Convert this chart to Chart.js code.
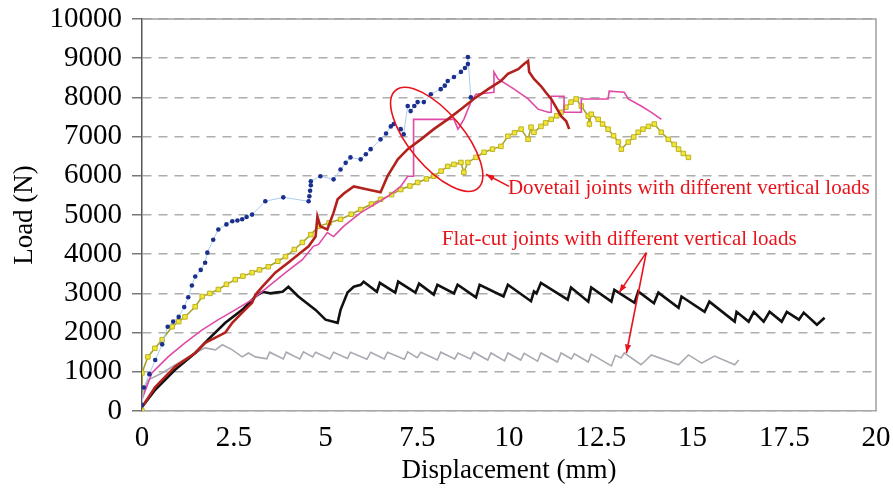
<!DOCTYPE html>
<html>
<head>
<meta charset="utf-8">
<script src="https://cdn.jsdelivr.net/npm/chart.js@4"></script>
<style>
  html, body { margin: 0; padding: 0; background: #fff; }
  #wrap { width: 893px; height: 488px; }
</style>
</head>
<body>
<div id="wrap"><canvas id="loadChart"></canvas></div>
<script>
// Load-displacement curves ------------------------------------------------------
const xTicks = [0, 2.5, 5, 7.5, 10, 12.5, 15, 17.5, 20];
const yTicks = [0, 1000, 2000, 3000, 4000, 5000, 6000, 7000, 8000, 9000, 10000];

// dovetail, dotted blue
const blueX = [0, 0.05, 0.2, 0.36, 0.55, 0.7, 0.85, 1.0, 1.15, 1.26, 1.36, 1.45, 1.6, 1.72, 1.78, 1.94, 2.08, 2.3, 2.46, 2.6, 2.73, 2.85, 3.0, 3.36, 3.85, 4.54, 4.56, 4.58, 4.6, 4.6, 4.86, 5.22, 5.41, 5.55, 5.68, 5.96, 6.1, 6.23, 6.5, 6.65, 6.78, 6.86, 7.05, 7.13, 7.24, 7.32, 7.42, 7.51, 7.68, 7.87, 8.14, 8.25, 8.33, 8.5, 8.69, 8.8, 8.88, 8.88, 8.96];
const blueY = [150, 600, 940, 1300, 1700, 2150, 2280, 2400, 2650, 2900, 3200, 3430, 3600, 3780, 4040, 4370, 4630, 4760, 4840, 4860, 4890, 4950, 5010, 5350, 5450, 5350, 5480, 5620, 5760, 5860, 5990, 5910, 6160, 6330, 6470, 6420, 6550, 6680, 6930, 7080, 7260, 7320, 7190, 7060, 7780, 7650, 7780, 7880, 7880, 8080, 8210, 8300, 8420, 8520, 8650, 8750, 8850, 9030, 8000];

// dovetail, dark red
const redX = [0, 0.36, 0.9, 1.45, 1.72, 2.0, 2.27, 2.46, 2.73, 3.0, 3.09, 3.28, 3.63, 3.99, 4.26, 4.54, 4.73, 4.78, 4.86, 5.05, 5.22, 5.33, 5.5, 5.77, 6.15, 6.5, 6.69, 6.97, 7.24, 7.6, 7.95, 8.33, 8.69, 9.04, 9.43, 9.78, 9.97, 10.25, 10.41, 10.52, 10.55, 10.68, 10.87, 11.0, 11.15, 11.28, 11.42, 11.56, 11.64];
const redY = [100, 610, 1130, 1480, 1740, 1870, 2000, 2250, 2510, 2760, 2970, 3170, 3530, 3790, 3990, 4200, 4450, 4960, 4710, 4630, 5060, 5400, 5550, 5730, 5650, 5580, 5990, 6420, 6680, 6930, 7190, 7440, 7700, 7960, 8210, 8420, 8600, 8720, 8850, 8930, 8650, 8470, 8290, 8130, 7960, 7750, 7520, 7390, 7190];

// dovetail, magenta
const pinkX = [0, 0.27, 0.71, 1.17, 1.64, 2.08, 2.54, 3.0, 3.44, 3.91, 4.37, 4.67, 4.81, 5.05, 5.22, 5.49, 5.96, 6.42, 6.69, 7.05, 7.24, 7.4, 7.4, 7.95, 8.5, 8.61, 8.77, 8.96, 9.1, 9.59, 9.59, 9.7, 10.14, 10.52, 10.79, 11.07, 11.15, 11.15, 11.5, 11.5, 11.97, 11.97, 12.7, 12.73, 13.14, 13.25, 13.6, 13.88, 14.15];
const pinkY = [300, 970, 1380, 1740, 2070, 2330, 2580, 2840, 3170, 3530, 3860, 4200, 4250, 4550, 4450, 4710, 5060, 5320, 5470, 5730, 5990, 5990, 7440, 7440, 7440, 7190, 7440, 7880, 8080, 8130, 8650, 8470, 8210, 7960, 7700, 7620, 7620, 8030, 8030, 7620, 7620, 7960, 7960, 8160, 8130, 7960, 7780, 7620, 7440];

// dovetail, yellow squares
const yellowX = [0, 0, 0.16, 0.35, 0.55, 0.82, 1.0, 1.17, 1.45, 1.64, 1.85, 2.08, 2.3, 2.54, 2.75, 3.0, 3.2, 3.44, 3.7, 3.91, 4.15, 4.37, 4.6, 4.81, 5.1, 5.41, 5.7, 5.96, 6.25, 6.5, 6.8, 7.05, 7.3, 7.51, 7.75, 7.95, 8.15, 8.33, 8.5, 8.69, 8.77, 8.88, 9.1, 9.32, 9.55, 9.78, 9.97, 10.15, 10.33, 10.52, 10.6, 10.68, 10.87, 11.0, 11.15, 11.3, 11.42, 11.55, 11.69, 11.83, 11.97, 12.16, 12.19, 12.24, 12.43, 12.55, 12.7, 12.85, 12.98, 13.06, 13.25, 13.4, 13.52, 13.65, 13.8, 13.96, 14.15, 14.34, 14.5, 14.62, 14.75, 14.89];
const yellowY = [0, 970, 1380, 1600, 1820, 2150, 2280, 2400, 2660, 2920, 3000, 3100, 3230, 3350, 3440, 3530, 3600, 3680, 3820, 3940, 4120, 4300, 4500, 4710, 4800, 4890, 5020, 5140, 5280, 5400, 5520, 5650, 5740, 5830, 5920, 5990, 6120, 6240, 6290, 6340, 6090, 6340, 6470, 6600, 6680, 6750, 7010, 7100, 7190, 6930, 7240, 7110, 7260, 7350, 7440, 7530, 7620, 7750, 7880, 7960, 7780, 7520, 7320, 7570, 7440, 7320, 7190, 7020, 6860, 6680, 6860, 6990, 7110, 7190, 7260, 7320, 7110, 6930, 6800, 6680, 6570, 6470];

// flat-cut, black
const blackX = [0, 0.36, 0.9, 1.45, 1.8, 2.27, 2.73, 3.09, 3.28, 3.5, 3.63, 3.83, 3.99, 4.26, 4.73, 5.0, 5.33, 5.41, 5.6, 5.77, 5.96, 6.04, 6.4, 6.48, 6.9, 6.98, 7.45, 7.55, 7.95, 8.05, 8.5, 8.6, 9.1, 9.2, 9.85, 9.97, 10.6, 10.68, 10.75, 10.87, 11.6, 11.69, 12.16, 12.24, 12.79, 12.87, 13.42, 13.52, 13.95, 14.07, 14.62, 14.7, 15.33, 15.46, 16.15, 16.2, 16.53, 16.67, 16.94, 17.1, 17.43, 17.57, 17.9, 18.03, 18.39, 18.6];
const blackY = [100, 540, 1050, 1480, 1820, 2250, 2580, 2920, 3040, 3000, 3020, 3040, 3170, 2920, 2580, 2330, 2250, 2580, 3020, 3170, 3220, 3300, 3040, 3270, 3020, 3300, 3020, 3250, 2970, 3220, 3000, 3220, 2900, 3220, 2920, 3220, 2800, 3050, 3000, 3270, 2840, 3150, 2790, 3150, 2790, 3090, 2760, 3050, 2750, 3020, 2630, 2920, 2530, 2790, 2280, 2530, 2280, 2530, 2280, 2530, 2280, 2530, 2330, 2510, 2200, 2380];

// flat-cut, grey
const greyX = [0, 0.16, 0.55, 1.0, 1.45, 1.72, 2.0, 2.19, 2.46, 2.73, 2.9, 3.09, 3.4, 3.48, 3.85, 3.93, 4.3, 4.4, 4.65, 4.73, 5.12, 5.22, 5.6, 5.68, 6.13, 6.23, 6.6, 6.69, 7.15, 7.24, 7.5, 7.6, 8.05, 8.14, 8.52, 8.61, 8.95, 9.04, 9.42, 9.51, 9.88, 9.97, 10.32, 10.41, 10.78, 10.87, 11.32, 11.42, 11.7, 11.78, 12.16, 12.24, 12.79, 12.9, 13.05, 13.14, 13.6, 13.88, 14.62, 14.89, 15.25, 15.6, 16.15, 16.26];
const greyY = [360, 790, 970, 1230, 1480, 1610, 1560, 1690, 1560, 1380, 1480, 1380, 1330, 1500, 1330, 1500, 1330, 1510, 1380, 1500, 1330, 1500, 1340, 1500, 1320, 1500, 1330, 1500, 1320, 1510, 1360, 1500, 1300, 1500, 1330, 1480, 1330, 1500, 1300, 1480, 1280, 1480, 1300, 1470, 1270, 1480, 1250, 1480, 1330, 1460, 1250, 1450, 1150, 1420, 1350, 1480, 1180, 1430, 1180, 1430, 1220, 1400, 1180, 1300];

const pts = (xs, ys) => xs.map((v, i) => ({ x: v, y: ys[i] }));

// notes
const ellipseCentre = { x: 8.03, y: 6930 };
const dovetailNote = { text: "Dovetail joints with different vertical loads", x: 9.97, y: 5680 };
const dovetailArrow = { from: [10.0, 5730], to: [9.37, 6040] };
const flatNote = { text: "Flat-cut joints with different vertical loads", x: 8.17, y: 4370 };
const flatArrows = [
  { from: [13.74, 4040], to: [13.0, 3020] },
  { from: [13.74, 4040], to: [13.2, 1480] },
];

const SERIF = "'Liberation Serif', 'Times New Roman', serif";
const NOTE_RED = "#e8141c";

function arrow(ctx, x0, y0, x1, y1) {
  const ang = Math.atan2(y1 - y0, x1 - x0);
  ctx.beginPath();
  ctx.moveTo(x0, y0);
  ctx.lineTo(x1, y1);
  ctx.stroke();
  ctx.beginPath();
  ctx.moveTo(x1, y1);
  ctx.lineTo(x1 - 9 * Math.cos(ang - 0.35), y1 - 9 * Math.sin(ang - 0.35));
  ctx.lineTo(x1 - 9 * Math.cos(ang + 0.35), y1 - 9 * Math.sin(ang + 0.35));
  ctx.closePath();
  ctx.fill();
}

const framePlugin = {
  id: "frame",
  beforeDatasetsDraw(chart) {
    const { ctx, chartArea: a } = chart;
    ctx.save();
    ctx.strokeStyle = "#a0a0a0";
    ctx.lineWidth = 1.5;
    ctx.beginPath();
    ctx.moveTo(a.left, a.top);
    ctx.lineTo(a.right, a.top);
    ctx.lineTo(a.right, a.bottom);
    ctx.stroke();
    ctx.restore();
  },
};

const notesPlugin = {
  id: "notes",
  afterDatasetsDraw(chart) {
    const { ctx, scales: { x, y } } = chart;
    const px = (v) => x.getPixelForValue(v);
    const py = (v) => y.getPixelForValue(v);
    ctx.save();
    ctx.strokeStyle = NOTE_RED;
    ctx.fillStyle = NOTE_RED;
    ctx.lineWidth = 1.6;

    ctx.beginPath();
    ctx.ellipse(px(ellipseCentre.x), py(ellipseCentre.y), 64, 27, (50 * Math.PI) / 180, 0, Math.PI * 2);
    ctx.stroke();

    arrow(ctx, px(dovetailArrow.from[0]), py(dovetailArrow.from[1]), px(dovetailArrow.to[0]), py(dovetailArrow.to[1]));
    flatArrows.forEach((a) => arrow(ctx, px(a.from[0]), py(a.from[1]), px(a.to[0]), py(a.to[1])));

    ctx.font = "21px " + SERIF;
    ctx.textBaseline = "middle";
    ctx.textAlign = "left";
    ctx.fillText(dovetailNote.text, px(dovetailNote.x), py(dovetailNote.y));
    ctx.fillText(flatNote.text, px(flatNote.x), py(flatNote.y));
    ctx.restore();
  },
};

const lineSet = (label, xs, ys, colour, width, order) => ({
  label: label,
  data: pts(xs, ys),
  showLine: true,
  borderColor: colour,
  backgroundColor: colour,
  borderWidth: width,
  pointRadius: 0,
  tension: 0,
  order: order,
});

const blueSet = lineSet("Dovetail 1", blueX, blueY, "#a9cdee", 1, 1);
blueSet.pointRadius = 2.3;
blueSet.pointBackgroundColor = "#1b2f8f";
blueSet.pointBorderColor = "#1b2f8f";
blueSet.pointBorderWidth = 0;

const yellowSet = lineSet("Dovetail 4", yellowX, yellowY, "#a3a024", 1.5, 4);
yellowSet.pointStyle = "rect";
yellowSet.pointRadius = 3.2;
yellowSet.pointBackgroundColor = "#f1e636";
yellowSet.pointBorderColor = "#bdb223";
yellowSet.pointBorderWidth = 1;

new Chart(document.getElementById("loadChart"), {
  type: "scatter",
  data: {
    datasets: [
      blueSet,
      lineSet("Dovetail 2", redX, redY, "#b3211d", 2.6, 2),
      lineSet("Dovetail 3", pinkX, pinkY, "#e04aa6", 1.6, 3),
      yellowSet,
      lineSet("Flat-cut 1", blackX, blackY, "#111111", 2.6, 5),
      lineSet("Flat-cut 2", greyX, greyY, "#a9a9b3", 1.6, 6),
    ],
  },
  options: {
    responsive: true,
    maintainAspectRatio: false,
    animation: false,
    layout: { padding: { left: 0, right: 17, top: 19, bottom: 0 } },
    scales: {
      x: {
        type: "linear",
        min: 0,
        max: 20,
        afterBuildTicks: (s) => { s.ticks = xTicks.map((v) => ({ value: v })); },
        afterFit: (s) => { s.height = 77; s.paddingLeft = 0; s.paddingRight = 0; },
        ticks: {
          color: "#000",
          padding: 10,
          font: { family: SERIF, size: 29 },
          callback: (v) => String(v),
        },
        grid: { display: false, drawTicks: false },
        border: { display: true, color: "#a8a8a8", width: 1.5 },
        title: {
          display: true,
          text: "Displacement (mm)",
          color: "#000",
          font: { family: SERIF, size: 27 },
          padding: { top: 0, bottom: 1 },
        },
      },
      y: {
        type: "linear",
        min: 0,
        max: 10000,
        afterBuildTicks: (s) => { s.ticks = yTicks.map((v) => ({ value: v })); },
        afterFit: (s) => { s.width = 142; s.paddingTop = 0; s.paddingBottom = 0; },
        ticks: {
          color: "#000",
          padding: 10,
          font: { family: SERIF, size: 29 },
          callback: (v) => String(v),
        },
        grid: {
          color: "#adadad",
          lineWidth: 1.5,
          drawTicks: true,
          tickLength: 10,
          tickColor: "#777",
        },
        border: { display: true, color: "#555", width: 1.5, dash: [9, 7] },
        title: {
          display: true,
          text: "Load (N)",
          color: "#000",
          font: { family: SERIF, size: 27 },
          padding: { top: 9, bottom: 4 },
        },
      },
    },
    plugins: {
      legend: { display: false },
      tooltip: { enabled: false },
    },
  },
  plugins: [framePlugin, notesPlugin],
});
</script>
</body>
</html>
